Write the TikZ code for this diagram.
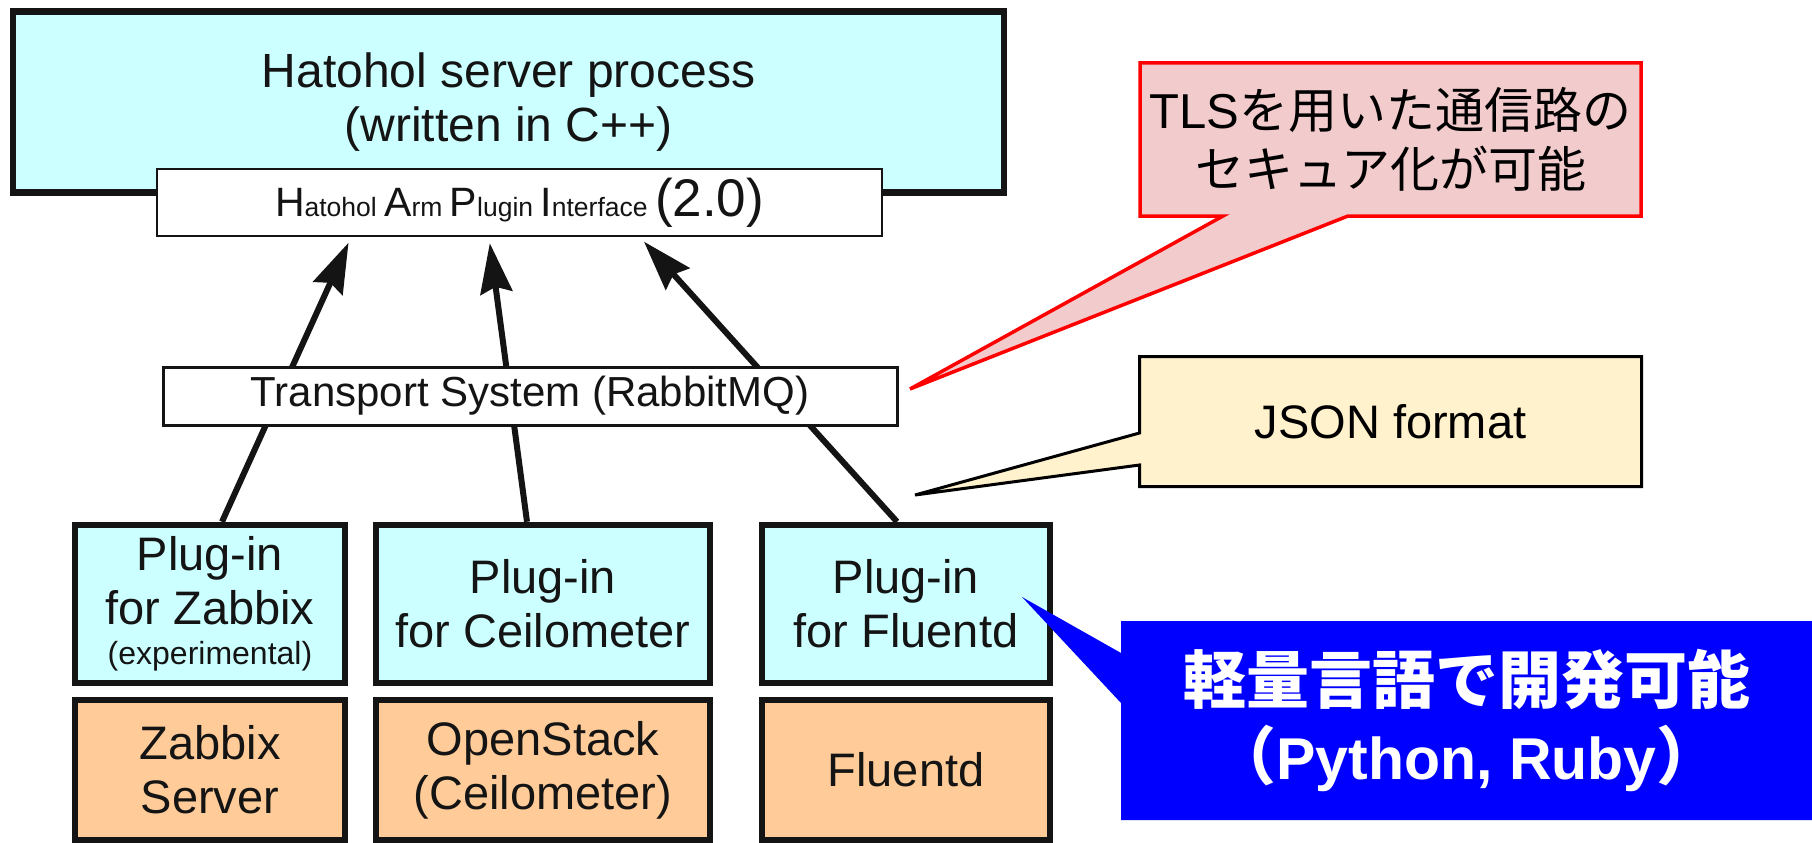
\documentclass[tikz,border=0pt]{standalone}
\usepackage{fontspec}
\setmainfont{Liberation Sans}
\newfontfamily\jpfont{Noto Sans CJK JP}
\usetikzlibrary{arrows.meta}

\definecolor{procfill}{RGB}{204,255,255}
\definecolor{appfill}{RGB}{255,204,153}
\definecolor{tlsfill}{RGB}{242,204,204}
\definecolor{jsonfill}{RGB}{255,242,204}
\definecolor{boxline}{RGB}{20,20,20}

\newcommand{\hapicap}[1]{{\fontsize{41}{41}\selectfont #1}}

\begin{document}
\begin{tikzpicture}[x=1pt,y=-1pt,
  thickbox/.style={draw=boxline,line width=6.5pt,inner sep=0pt,align=center,text=boxline,font=\fontsize{47}{54}\selectfont},
  plugbox/.style={thickbox,fill=procfill,minimum height=158pt},
  appbox/.style={thickbox,fill=appfill,minimum height=140pt},
  thinbox/.style={draw=boxline,line width=3pt,fill=white,inner sep=0pt,text=boxline},
  flow/.style={draw=boxline,line width=6pt,-{Stealth[length=50pt,width=32pt,inset=6pt]},shorten >=6pt},
  tlscall/.style={draw=red,line width=3.5pt,fill=tlsfill},
  jsoncall/.style={draw=black,line width=3pt,fill=jsonfill},
  langcall/.style={fill=blue}
]
\useasboundingbox (0,0) rectangle (1812,843);

\node[thickbox,fill=procfill,minimum width=991pt,minimum height=181pt,font=\fontsize{48}{54}\selectfont] (srv) at (508.5,102) {Hatohol server process\\(written in C++)};
\node[thinbox,line width=2.5pt,minimum width=725pt,minimum height=67pt,font=\fontsize{26.5}{30}\selectfont] (hapi) at (519.5,202.5) {\hapicap{H}atohol \hapicap{A}rm \hapicap{P}lugin \hapicap{I}nterface {\fontsize{53}{53}\selectfont(2.0)}};

\node[plugbox,minimum width=270pt] (zpl) at (210,604) {Plug-in\\for Zabbix\\[-14pt]{\fontsize{32}{36}\selectfont(experimental)}};
\node[plugbox,minimum width=334pt] (cpl) at (543,604) {Plug-in\\for Ceilometer};
\node[plugbox,minimum width=288pt] (fpl) at (906,604) {Plug-in\\for Fluentd};
\node[appbox,minimum width=270pt] (zsv) at (210,770) {Zabbix\\Server};
\node[appbox,minimum width=334pt] (osk) at (543,770) {OpenStack\\(Ceilometer)};
\node[appbox,minimum width=288pt] (fsv) at (906,770) {Fluentd};

\draw[flow] ([xshift=12pt]zpl.north) -- ([xshift=-168.5pt]hapi.south);
\draw[flow] ([xshift=-16pt]cpl.north) -- ([xshift=-30.5pt]hapi.south);
\draw[flow] ([xshift=-9pt]fpl.north) -- ([xshift=120.5pt]hapi.south);

\node[thinbox,minimum width=734pt,minimum height=58pt,font=\fontsize{42}{42}\selectfont] (bus) at (530,396) {Transport System (RabbitMQ)};

\coordinate (tlstip) at (910,389);
\draw[tlscall] (1140,63) -- (1641,63) -- (1641,216) -- (1348,216) -- (tlstip) -- (1223,216) -- (1140,216) -- cycle;
\node[align=center,font=\jpfont\fontsize{49}{59}\selectfont] (tls) at (1390.5,139.5) {{\normalfont TLS}を用いた通信路の\\セキュア化が可能};

\coordinate (jsontip) at (915,495);
\draw[jsoncall] (1139.5,356.5) -- (1641.5,356.5) -- (1641.5,486.5) -- (1139.5,486.5) -- (1139.5,465) -- (jsontip) -- (1139.5,433) -- cycle;
\node[font=\fontsize{47}{47}\selectfont] (json) at (1390.5,421.5) {JSON format};

\coordinate (langtip) at (1022,597);
\fill[langcall] (1121,621) -- (1812,621) -- (1812,820) -- (1121,820) -- (1121,703) -- (langtip) -- (1121,653) -- cycle;
\node[align=center,text=white,font=\jpfont\bfseries\fontsize{63}{76}\selectfont] (lang) at (1466.5,720.5) {軽量言語で開発可能\\（{\normalfont\bfseries\fontsize{59}{76}\selectfont Python, Ruby}）};
\end{tikzpicture}
\end{document}
